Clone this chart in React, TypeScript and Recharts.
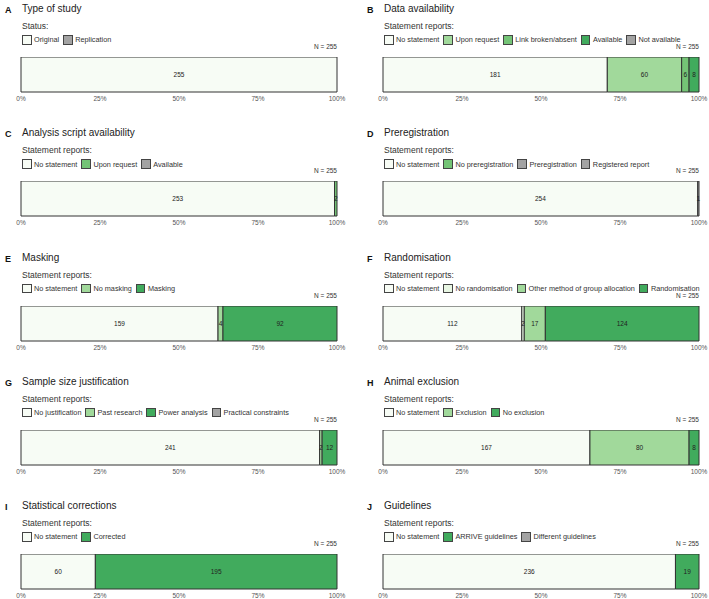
import { BarChart, Bar, XAxis, YAxis, LabelList } from "recharts";

const TOTAL = 255;
const pctTicks = [0, 0.25, 0.5, 0.75, 1];

// A
const studyTypeCats = ["Original", "Replication"];
const studyTypeCounts = [255, 0];
// B
const dataAvailCats = ["No statement", "Upon request", "Link broken/absent", "Available", "Not available"];
const dataAvailCounts = [181, 60, 6, 8, 0];
// C
const scriptCats = ["No statement", "Upon request", "Available"];
const scriptCounts = [253, 2, 0];
// D
const preregCats = ["No statement", "No preregistration", "Preregistration", "Registered report"];
const preregCounts = [254, 0, 1, 0];
// E
const maskingCats = ["No statement", "No masking", "Masking"];
const maskingCounts = [159, 4, 92];
// F
const randomCats = ["No statement", "No randomisation", "Other method of group allocation", "Randomisation"];
const randomCounts = [112, 2, 17, 124];
// G
const sampleCats = ["No justification", "Past research", "Power analysis", "Practical constraints"];
const sampleCounts = [241, 2, 12, 0];
// H
const exclusionCats = ["No statement", "Exclusion", "No exclusion"];
const exclusionCounts = [167, 80, 8];
// I
const correctionCats = ["No statement", "Corrected"];
const correctionCounts = [60, 195];
// J
const guidelineCats = ["No statement", "ARRIVE guidelines", "Different guidelines"];
const guidelineCounts = [236, 19, 0];

const WHITE = "#f7fcf5";
const PALE = "#e8f6e3";
const LIGHT = "#a1d99b";
const MID = "#74c476";
const DARK = "#41ab5d";
const GREY = "#a3a3a3";

const FONT = "'Liberation Sans', Arial, sans-serif";

type Panel = {
  letter: string;
  title: string;
  subtitle: string;
  cats: string[];
  counts: number[];
  colors: string[];
};

const panels: Panel[] = [
  { letter: "A", title: "Type of study", subtitle: "Status:", cats: studyTypeCats, counts: studyTypeCounts, colors: [WHITE, GREY] },
  { letter: "B", title: "Data availability", subtitle: "Statement reports:", cats: dataAvailCats, counts: dataAvailCounts, colors: [WHITE, LIGHT, MID, DARK, GREY] },
  { letter: "C", title: "Analysis script availability", subtitle: "Statement reports:", cats: scriptCats, counts: scriptCounts, colors: [WHITE, MID, GREY] },
  { letter: "D", title: "Preregistration", subtitle: "Statement reports:", cats: preregCats, counts: preregCounts, colors: [WHITE, MID, GREY, GREY] },
  { letter: "E", title: "Masking", subtitle: "Statement reports:", cats: maskingCats, counts: maskingCounts, colors: [WHITE, LIGHT, DARK] },
  { letter: "F", title: "Randomisation", subtitle: "Statement reports:", cats: randomCats, counts: randomCounts, colors: [WHITE, PALE, LIGHT, DARK] },
  { letter: "G", title: "Sample size justification", subtitle: "Statement reports:", cats: sampleCats, counts: sampleCounts, colors: [WHITE, LIGHT, DARK, GREY] },
  { letter: "H", title: "Animal exclusion", subtitle: "Statement reports:", cats: exclusionCats, counts: exclusionCounts, colors: [WHITE, LIGHT, DARK] },
  { letter: "I", title: "Statistical corrections", subtitle: "Statement reports:", cats: correctionCats, counts: correctionCounts, colors: [WHITE, DARK] },
  { letter: "J", title: "Guidelines", subtitle: "Statement reports:", cats: guidelineCats, counts: guidelineCounts, colors: [WHITE, DARK, GREY] },
];

const BAR_W = 316;
const BAR_H = 35;
const SIDE = 12;

function PanelView({ p, x, y }: { p: Panel; x: number; y: number }) {
  const row: Record<string, number | string> = { name: p.letter };
  p.counts.forEach((c, i) => (row["s" + i] = c));
  return (
    <div style={{ position: "absolute", left: x, top: y, width: 350, height: 120 }}>
      <div style={{ position: "absolute", left: 5, top: 5, fontSize: 9, fontWeight: "bold", color: "#111" }}>
        {p.letter}
      </div>
      <div style={{ position: "absolute", left: 22, top: 3, fontSize: 10, color: "#222", whiteSpace: "nowrap" }}>
        {p.title}
      </div>
      <div style={{ position: "absolute", left: 22, top: 21, fontSize: 8.5, color: "#333", whiteSpace: "nowrap" }}>
        {p.subtitle}
      </div>
      <div
        style={{
          position: "absolute",
          left: 22,
          top: 35,
          display: "flex",
          alignItems: "center",
          whiteSpace: "nowrap",
          fontSize: 7.3,
          color: "#333",
        }}
      >
        {p.cats.map((c, i) => (
          <div key={c} style={{ display: "flex", alignItems: "center", marginRight: 4 }}>
            <div
              style={{
                width: 7.5,
                height: 7.5,
                background: p.colors[i],
                border: "0.8px solid #444",
                marginRight: 2.5,
              }}
            />
            <span>{c}</span>
          </div>
        ))}
      </div>
      <div
        style={{
          position: "absolute",
          left: 21,
          width: BAR_W,
          top: 43,
          textAlign: "right",
          fontSize: 6.5,
          color: "#333",
        }}
      >
        N = {TOTAL}
      </div>
      <div style={{ position: "absolute", left: 21 - SIDE, top: 57 }}>
        <BarChart
          width={BAR_W + 2 * SIDE}
          height={BAR_H + 15}
          data={[row]}
          layout="vertical"
          margin={{ top: 0, right: SIDE, bottom: 0, left: SIDE }}
          barCategoryGap={0}
        >
          <XAxis
            type="number"
            domain={[0, TOTAL]}
            ticks={pctTicks.map((t) => t * TOTAL)}
            tickFormatter={(v: number) => `${Math.round((v / TOTAL) * 100)}%`}
            tick={{ fontSize: 6.5, fill: "#555", fontFamily: FONT }}
            tickLine={false}
            axisLine={false}
            tickSize={0}
            tickMargin={4}
            height={15}
            interval={0}
          />
          <YAxis type="category" dataKey="name" hide />
          {p.cats.map((c, i) => (
            <Bar
              key={c}
              dataKey={"s" + i}
              stackId="a"
              fill={p.colors[i]}
              stroke="#333"
              strokeWidth={1}
              isAnimationActive={false}
            >
              <LabelList
                dataKey={"s" + i}
                position="center"
                fontSize={6.5}
                fill="#222"
                fontFamily={FONT}
                formatter={(v: any) => (v ? v : "")}
              />
            </Bar>
          ))}
        </BarChart>
      </div>
    </div>
  );
}

export default function App() {
  return (
    <div
      style={{
        position: "absolute",
        left: 0,
        top: 0,
        width: 709,
        height: 599,
        overflow: "hidden",
        background: "#fff",
        fontFamily: FONT,
      }}
    >
      {panels.map((p, i) => (
        <PanelView key={p.letter} p={p} x={i % 2 === 0 ? 0 : 362} y={Math.floor(i / 2) * 124.25} />
      ))}
    </div>
  );
}
